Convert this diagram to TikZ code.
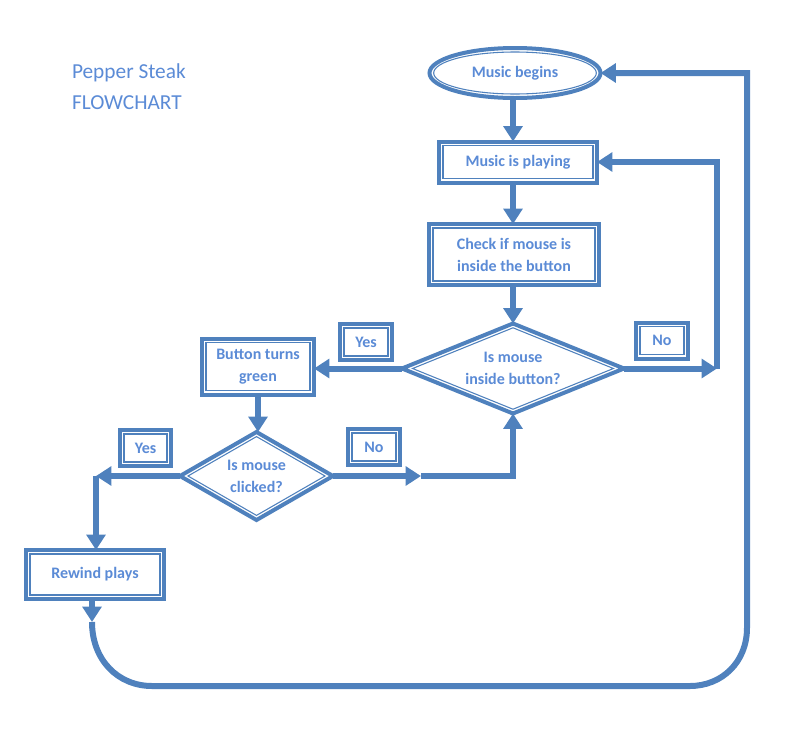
\documentclass[tikz,border=0pt]{standalone}
\usepackage{fontspec}
\setmainfont{Carlito}
\usetikzlibrary{shapes.geometric,arrows.meta,calc}
\definecolor{blu}{RGB}{79,129,189}
\definecolor{txt}{RGB}{91,139,214}
\newcommand\innerrect[1]{\draw[inner] ($(#1.north west)+(4,4)$) rectangle ($(#1.south east)+(-4,-4)$);}
\newcommand\innerdiam[3]{\draw[inner] ($(#1.north)+(0,#3)$) -- ($(#1.east)+(-#2,0)$) -- ($(#1.south)+(0,-#3)$) -- ($(#1.west)+(#2,0)$) -- cycle;}
\begin{document}
\begin{tikzpicture}[x=0.75pt,y=-0.75pt,
  every node/.style={outer sep=0pt, inner sep=0pt, text=txt, align=center,
    font=\bfseries\fontsize{12}{16.5}\selectfont},
  shp/.style={draw=blu, line width=3pt, fill=white},
  boxs/.style={shp, rectangle},
  diam/.style={shp, diamond},
  inner/.style={draw=blu, line width=0.8pt},
  conn/.style={draw=blu, line width=4.5pt},
  arr/.style={conn, -{Triangle[length=11.5pt,width=14pt]}},
  ttl/.style={text=txt, anchor=west, font=\fontsize{16}{20}\selectfont}
]
\useasboundingbox (0,0) rectangle (794,754);

% title
\node[ttl] (t1) at (72,73) {Pepper Steak};
\node[ttl] (t2) at (72,103) {FLOWCHART};

% nodes
\node[shp, ellipse, minimum width=128.25pt, minimum height=37.5pt] (mb) at (515,73) {Music begins};
\draw[inner] (mb.center) ellipse [x radius=61pt, y radius=15.75pt];

\node[boxs, minimum width=118.5pt, minimum height=30.75pt] (play) at (518,162) {Music is playing};
\innerrect{play}

\node[boxs, minimum width=127.5pt, minimum height=45.75pt] (check) at (514,254.5) {Check if mouse is\\inside the button};
\innerrect{check}

\node[diam, minimum width=166.5pt, minimum height=67.5pt, aspect=2.4] (d1) at (513,368.5) {Is mouse\\inside button?};
\innerdiam{d1}{10.6}{4.3}

\node[boxs, minimum width=39pt, minimum height=27pt] (yes1) at (366,342) {Yes};
\innerrect{yes1}
\node[boxs, minimum width=39pt, minimum height=27pt] (no1) at (662,340.5) {No};
\innerrect{no1}

\node[boxs, minimum width=84pt, minimum height=42pt] (btn) at (258,366.5) {Button turns\\green};
\innerrect{btn}

\node[diam, minimum width=114.75pt, minimum height=66pt, aspect=1.7] (d2) at (256.5,476) {Is mouse\\clicked?};
\innerdiam{d2}{8}{4.6}

\node[boxs, minimum width=38.25pt, minimum height=27pt] (yes2) at (145.5,448) {Yes};
\innerrect{yes2}
\node[boxs, minimum width=39pt, minimum height=27pt] (no2) at (374,447) {No};
\innerrect{no2}

\node[boxs, minimum width=103.5pt, minimum height=36.75pt] (rew) at (95,574.5) {Rewind plays};
\innerrect{rew}

% connectors
\draw[arr] (mb.south -| d1.north) -- (play.north -| d1.north);
\draw[arr] (play.south -| d1.north) -- (check.north -| d1.north);
\draw[arr] (check.south -| d1.north) -- (d1.north);

\coordinate (c1) at (717,368.5);
\draw[arr] (d1.east) -- (c1);
\draw[arr] (c1) |- (play.east);

\draw[arr] (d1.west) -- (btn.east |- d1.west);
\draw[arr] (btn.south) -- (d2.north -| btn.south);

\coordinate (c2) at (96,476);
\draw[arr] (d2.west) -- (c2);
\draw[arr] (c2) -- (rew.north -| c2);

\coordinate (c3) at (421,476);
\draw[arr] (d2.east) -- (c3);
\draw[arr] (c3) -| (d1.south);

\coordinate (c5) at (92,622);
\draw[arr] (rew.south -| c5) -- (c5);
\coordinate (b1) at (152,686);
\coordinate (b2) at (690,686);
\coordinate (r1) at (747,628);
\draw[arr] (c5) .. controls (92,660) and (118,686) .. (b1) -- (b2)
  .. controls (722,686) and (747,662) .. (r1) |- (mb.east);
\end{tikzpicture}
\end{document}
